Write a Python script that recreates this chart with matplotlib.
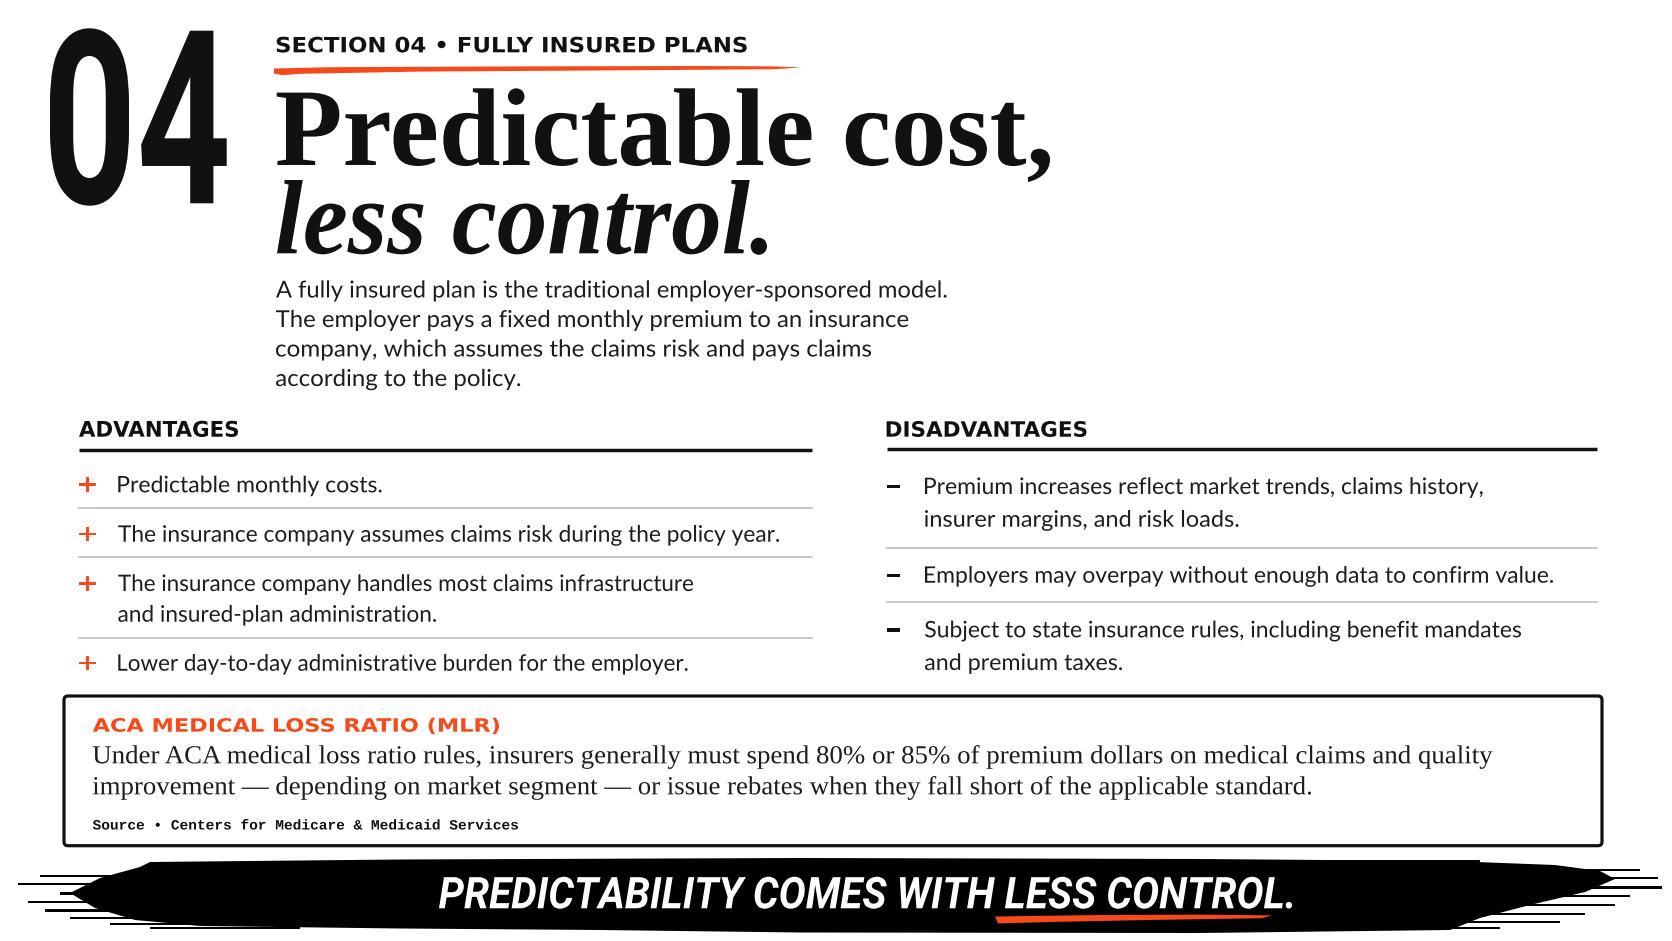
import matplotlib
matplotlib.use('Agg')
import matplotlib.pyplot as plt
from matplotlib import font_manager as fm
from matplotlib.textpath import TextPath, text_to_path
from matplotlib.font_manager import FontProperties
from matplotlib.patches import Polygon, FancyBboxPatch, Rectangle
import matplotlib.patheffects as pe
from matplotlib.transforms import Affine2D

# ---------------- content ----------------
section_number = "04"
section_label = "SECTION 04 \u2022 FULLY INSURED PLANS"
title_line1 = "Predictable cost,"
title_line2 = "less control."
intro_lines = [
    "A fully insured plan is the traditional employer-sponsored model.",
    "The employer pays a fixed monthly premium to an insurance",
    "company, which assumes the claims risk and pays claims",
    "according to the policy.",
]
adv_title = "ADVANTAGES"
advantages = [
    ["Predictable monthly costs."],
    ["The insurance company assumes claims risk during the policy year."],
    ["The insurance company handles most claims infrastructure",
     "and insured-plan administration."],
    ["Lower day-to-day administrative burden for the employer."],
]
dis_title = "DISADVANTAGES"
disadvantages = [
    ["Premium increases reflect market trends, claims history,",
     "insurer margins, and risk loads."],
    ["Employers may overpay without enough data to confirm value."],
    ["Subject to state insurance rules, including benefit mandates",
     "and premium taxes."],
]
callout_title = "ACA MEDICAL LOSS RATIO (MLR)"
callout_lines = [
    "Under ACA medical loss ratio rules, insurers generally must spend 80% or 85% of premium dollars on medical claims and quality",
    "improvement \u2014 depending on market segment \u2014 or issue rebates when they fall short of the applicable standard.",
]
source_text = "Source \u2022 Centers for Medicare & Medicaid Services"
banner_text = "PREDICTABILITY COMES WITH LESS CONTROL."

# ---------------- layout (pixels) ----------------
W, H = 1672, 941
intro_base = [297.5, 327.0, 356.5, 386.0]
intro_end = [946.6, 908.2, 871.0, 520.2]
adv_base = [[492.3], [541.7], [591.0, 621.7], [670.7]]
adv_end = [[381.6], [779.0], [693.0, 436.0], [687.6]]
adv_seps = [508.3, 557.3, 637.7]
dis_base = [[494.0, 526.7], [582.7], [637.3, 670.0]]
dis_end = [[1482.6, 1238.5], [1553.0], [1521.0, 1122.0]]
dis_seps = [547.7, 601.7]
callout_base = [763.3, 794.3]
callout_end = [1492.5, 1311.0]

ORANGE = '#F64A1A'
INK = '#111111'
TXT = '#1d1d1d'
GRAY = '#BEBEBE'

names = {f.name for f in fm.fontManager.ttflist}
def pick(*c):
    for n in c:
        if n in names:
            return n
    return 'DejaVu Sans'
NARROW = pick('Liberation Sans Narrow', 'Roboto', 'DejaVu Sans')
SERIF = pick('Liberation Serif', 'DejaVu Serif')
SANS = pick('Lato', 'Open Sans', 'DejaVu Sans')
HEAD = pick('DejaVu Sans')
MONO = pick('Liberation Mono', 'DejaVu Sans Mono')

fig = plt.figure(figsize=(W / 100, H / 100), dpi=100)
fig.patch.set_facecolor('white')
ax = fig.add_axes([0, 0, 1, 1])
ax.set_xlim(0, W)
ax.set_ylim(H, 0)
ax.axis('off')


class HStretch(pe.AbstractPathEffect):
    def __init__(self, sx, x0):
        super().__init__()
        self._sx = sx
        self._x0 = x0

    def draw_path(self, renderer, gc, tpath, affine, rgbFace=None):
        a = affine + Affine2D().translate(-self._x0, 0).scale(self._sx, 1).translate(self._x0, 0)
        renderer.draw_path(gc, tpath, a, rgbFace)


def put(s, x0, x1, base, top, family, weight='normal', style='normal',
        color=TXT, bottom=None, capref=None, sx=None, z=5, center=False):
    fp = FontProperties(family=family, weight=weight, style=style)
    tp = TextPath((0, 0), s, size=100, prop=fp)
    e = tp.get_extents()
    if bottom is not None:
        fs_px = (bottom - top) / ((e.y1 - e.y0) / 100.0)
        base_y = bottom + e.y0 / 100.0 * fs_px
    else:
        if capref is not None:
            hr = TextPath((0, 0), capref, size=100, prop=fp).get_extents().y1 / 100.0
        else:
            hr = e.y1 / 100.0
        fs_px = (base - top) / hr
        base_y = base
    k = fs_px / 100.0
    ink_w = (e.x1 - e.x0) * k
    if sx is None:
        sx = (x1 - x0) / ink_w
    if center:
        fp100 = fp.copy()
        fp100.set_size(100)
        adv = text_to_path.get_text_width_height_descent(s, fp100, ismath=False)[0]
        xt = x0 - (e.x0 - adv / 2.0) * k * sx
        ha = 'center'
    else:
        xt = x0 - e.x0 * k * sx
        ha = 'left'
    t = ax.text(xt, base_y, s, fontsize=fs_px * 0.72, family=family,
                fontweight=weight, fontstyle=style, color=color,
                va='baseline', ha=ha, zorder=z)
    t.set_path_effects([HStretch(sx, xt)])
    return t


# ---------------- header ----------------
put(section_number, 50, 226.7, 203.3, 28.3, NARROW, weight='bold', color=INK, center=True)
put(section_label, 276.7, 746.7, 52.3, 36.7, HEAD, weight='bold', color=INK)
ax.add_patch(Polygon([(274, 68.5), (330, 67.2), (520, 66.4), (700, 66.0), (770, 66.3),
                      (802, 67.4), (775, 69.2), (640, 70.2), (420, 71.6), (300, 73.8),
                      (282, 75.2), (274, 73.5)], closed=True, fc=ORANGE, ec='none', zorder=4))
put(title_line1, 276.7, 1050, 165.0, 88.3, SERIF, weight='bold', color=INK)
put(title_line2, 277, 767, 253.3, 180.0, SERIF, weight='bold', style='italic', color=INK)

for s, b, xe in zip(intro_lines, intro_base, intro_end):
    put(s, 276.0, xe, b, b - 16.7, SANS, capref='H')

# ---------------- advantages ----------------
put(adv_title, 79, 238, 436.7, 420.7, HEAD, weight='bold', color=INK)
ax.plot([79, 812], [450, 450], color=INK, lw=2.5, solid_capstyle='butt', zorder=3)
for y in adv_seps:
    ax.plot([79, 812], [y, y], color=GRAY, lw=1.2, zorder=3)
for lines, bases, ends in zip(advantages, adv_base, adv_end):
    put('+', 79, 96, None, bases[0] - 15.0, HEAD, weight='bold', color=ORANGE,
        bottom=bases[0] - 0.3)
    for s, b, xe in zip(lines, bases, ends):
        put(s, 118.3, xe, b, b - 16.3, SANS, capref='H')

# ---------------- disadvantages ----------------
put(dis_title, 886.6, 1086.5, 436.7, 421.0, HEAD, weight='bold', color=INK)
ax.plot([886.6, 1596.7], [449.3, 449.3], color=INK, lw=2.5, solid_capstyle='butt', zorder=3)
for y in dis_seps:
    ax.plot([886.6, 1596.7], [y, y], color=GRAY, lw=1.2, zorder=3)
for lines, bases, ends in zip(disadvantages, dis_base, dis_end):
    put('\u2013', 886.6, 900.0, None, bases[0] - 9.0, HEAD, weight='bold', color=INK,
        bottom=bases[0] - 5.6)
    for s, b, xe in zip(lines, bases, ends):
        put(s, 925.0, xe, b, b - 16.3, SANS, capref='H')

# ---------------- callout box ----------------
ax.add_patch(FancyBboxPatch((64, 696), 1602 - 64, 845.7 - 696,
                            boxstyle='round,pad=0,rounding_size=4',
                            fc='white', ec=INK, lw=2.3, zorder=2))
put(callout_title, 92.8, 499, 731.7, 717.7, HEAD, weight='bold', color=ORANGE)
for s, b, xe in zip(callout_lines, callout_base, callout_end):
    put(s, 92.8, xe, b, b - 17.0, SERIF, capref='H', color=TXT)
put(source_text, 92.8, 518, 829.5, 820.0, MONO, weight='bold', capref='S', color=INK)

# ---------------- brush banner ----------------
ax.add_patch(Polygon([(150, 862), (400, 859.5), (800, 858), (1200, 859), (1450, 861),
                      (1555, 865), (1600, 871), (1615, 879), (1585, 892), (1530, 905),
                      (1480, 918), (1450, 930), (1200, 933), (800, 932.5), (600, 930),
                      (400, 928.5), (200, 926), (135, 920), (95, 908), (70, 893),
                      (100, 878), (140, 867)], closed=True, fc='black', ec='none', zorder=3))
streaks = [(40, 160, 876, 2.5), (18, 150, 884, 2), (60, 170, 893, 3), (28, 140, 902, 2),
           (45, 165, 910, 3), (70, 190, 918, 2.5), (110, 260, 924, 2), (150, 300, 928, 1.5),
           (1450, 1640, 870, 2.5), (1500, 1658, 878, 2.5), (1470, 1662, 887, 3),
           (1460, 1630, 896, 2.5), (1430, 1615, 905, 2.5), (1420, 1585, 914, 2),
           (1400, 1560, 922, 2), (1380, 1500, 928, 1.5), (1320, 1480, 861, 1.5)]
for x0, x1, y, th in streaks:
    ax.add_patch(Rectangle((x0, y - th / 2), x1 - x0, th, fc='black', ec='none', zorder=3))
put(banner_text, 439, 1292, 908.3, 876.7, NARROW, weight='bold', style='italic', color='white', z=6)
ax.add_patch(Polygon([(995, 916.5), (1100, 915.0), (1200, 914.6), (1272, 915.4),
                      (1262, 918.2), (1150, 920.0), (1050, 922.0), (998, 923.5)],
                     closed=True, fc=ORANGE, ec='none', zorder=5))

fig.savefig('out.png', dpi=100, facecolor='white')
